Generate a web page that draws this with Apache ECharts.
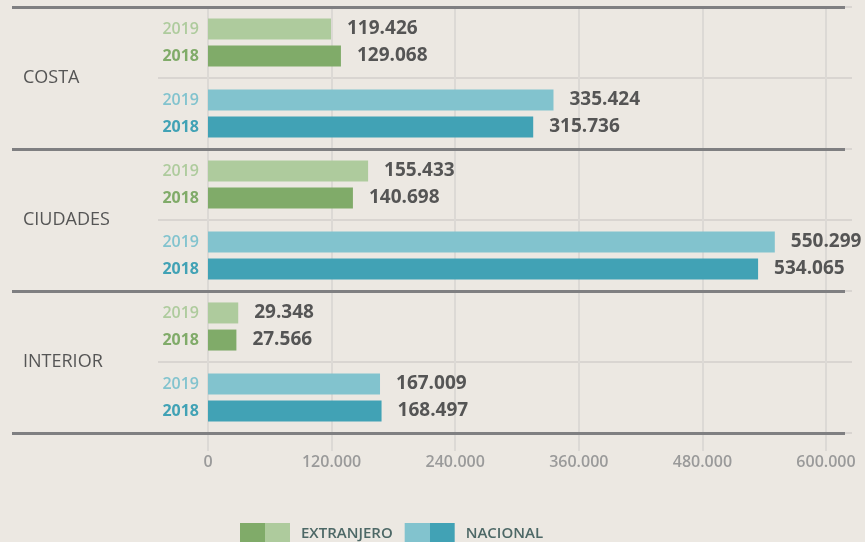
<!DOCTYPE html>
<html lang="es">
  <head>
    <meta charset="UTF-8" />
    <title>Costa, ciudades e interior</title>
    <script src="https://cdn.jsdelivr.net/npm/echarts@6/dist/echarts.min.js"></script>
    <style>
      html, body { margin: 0; padding: 0; background: #ece8e2; }
    </style>
  </head>
  <body>
    <div id="main" style="width: 865px; height: 542px"></div>

    <script>
      // datos
      const groups = ['COSTA', 'CIUDADES', 'INTERIOR']
      const rows = [
        'COSTA EXTRANJERO', 'COSTA NACIONAL',
        'CIUDADES EXTRANJERO', 'CIUDADES NACIONAL',
        'INTERIOR EXTRANJERO', 'INTERIOR NACIONAL',
      ]
      const rowKind = ['ext', 'nac', 'ext', 'nac', 'ext', 'nac']
      const values2019 = [119426, 335424, 155433, 550299, 29348, 167009]
      const values2018 = [129068, 315736, 140698, 534065, 27566, 168497]
      const years = ['2019', '2018']
      const legendNames = ['EXTRANJERO', 'NACIONAL']

      const colors = {
        2019: { ext: '#aecb9d', nac: '#82c3ce' },
        2018: { ext: '#80ab69', nac: '#41a2b5' },
      }
      const font = "'Open Sans', 'Noto Sans', sans-serif"

      // número con punto de miles
      const fmt = v => String(v).replace(/\B(?=(\d{3})+(?!\d))/g, '.')

      function barData(year, values) {
        return values.map((v, i) => ({
          value: v,
          itemStyle: { color: colors[year][rowKind[i]] },
        }))
      }
      // serie de ancho cero, solo para poner el año a la izquierda
      function yearData(year) {
        return rows.map((r, i) => ({
          value: 0,
          label: { color: colors[year][rowKind[i]] },
        }))
      }

      const valueLabel = {
        show: true,
        position: 'right',
        distance: 16,
        formatter: p => fmt(p.value),
        color: '#555',
        fontFamily: font,
        fontWeight: 700,
        fontSize: 19,
      }
      const yearLabel = (year, weight) => ({
        show: true,
        position: 'left',
        distance: 9,
        formatter: year,
        fontFamily: font,
        fontWeight: weight,
        fontSize: 16,
      })

      const split = (a, b) => ({
        type: 'linear', x: 0, y: 0, x2: 1, y2: 0,
        colorStops: [
          { offset: 0, color: a },
          { offset: 0.5, color: a },
          { offset: 0.5, color: b },
          { offset: 1, color: b },
        ],
      })

      const chart = echarts.init(document.getElementById('main'))
      const options = {
        backgroundColor: '#ece8e2',
        animation: false,
        grid: [
          { left: 208, right: 39, top: 7, bottom: 109 }, // barras
          { left: 158, right: 13, top: 7, bottom: 109 }, // líneas finas
          { left: 12, right: 20, top: 7, bottom: 109 }, // líneas gruesas
        ],
        xAxis: [
          {
            gridIndex: 0,
            type: 'value',
            min: 0,
            max: 600000,
            interval: 120000,
            axisLine: { show: false },
            axisTick: { show: true, length: 18, lineStyle: { color: '#dcd9d5', width: 2 } },
            splitLine: { lineStyle: { color: '#dcd9d5', width: 2 } },
            axisLabel: {
              margin: 21,
              color: '#9a9a9a',
              fontFamily: font,
              fontWeight: 600,
              fontSize: 16,
              formatter: v => fmt(v),
            },
          },
          { gridIndex: 1, type: 'value', show: false },
          { gridIndex: 2, type: 'value', show: false },
        ],
        yAxis: [
          {
            gridIndex: 0,
            type: 'category',
            data: rows,
            inverse: true,
            show: false,
          },
          {
            gridIndex: 1,
            type: 'category',
            data: rows,
            inverse: true,
            axisLine: { show: false },
            axisTick: { show: false },
            axisLabel: { show: false },
            splitLine: { show: true, interval: 0, lineStyle: { color: '#d9d5d1', width: 2 } },
          },
          {
            gridIndex: 2,
            type: 'category',
            data: groups,
            inverse: true,
            z: 5,
            axisLine: { show: false },
            axisTick: { show: false },
            axisLabel: {
              inside: true,
              margin: 11,
              align: 'left',
              color: '#555',
              fontFamily: font,
              fontSize: 18,
            },
            splitLine: { show: true, interval: 0, lineStyle: { color: '#7f7f81', width: 3 } },
          },
        ],
        legend: {
          left: 235,
          top: 518,
          itemWidth: 50,
          itemHeight: 22,
          itemGap: 12,
          icon: 'rect',
          selectedMode: false,
          textStyle: {
            color: '#4d6866',
            fontFamily: font,
            fontWeight: 600,
            fontSize: 15,
            padding: [0, 0, 0, 6],
          },
          data: [
            { name: legendNames[0], itemStyle: { color: split(colors[2018].ext, colors[2019].ext) } },
            { name: legendNames[1], itemStyle: { color: split(colors[2019].nac, colors[2018].nac) } },
          ],
        },
        series: [
          // nombres de pila no numéricos para que se respete el orden
          {
            name: 'y' + years[0],
            type: 'bar',
            stack: 's' + years[0],
            barWidth: 21,
            barGap: '29%',
            data: yearData(years[0]),
            label: yearLabel(years[0], 600),
          },
          {
            name: years[0],
            type: 'bar',
            stack: 's' + years[0],
            barWidth: 21,
            barGap: '29%',
            data: barData(years[0], values2019),
            label: valueLabel,
          },
          {
            name: 'y' + years[1],
            type: 'bar',
            stack: 's' + years[1],
            barWidth: 21,
            barGap: '29%',
            data: yearData(years[1]),
            label: yearLabel(years[1], 700),
          },
          {
            name: years[1],
            type: 'bar',
            stack: 's' + years[1],
            barWidth: 21,
            barGap: '29%',
            data: barData(years[1], values2018),
            label: valueLabel,
          },
          // series vacías para la leyenda
          { name: legendNames[0], type: 'bar', xAxisIndex: 1, yAxisIndex: 1, data: [] },
          { name: legendNames[1], type: 'bar', xAxisIndex: 1, yAxisIndex: 1, data: [] },
        ],
      }
      chart.setOption(options)
    </script>
  </body>
</html>
